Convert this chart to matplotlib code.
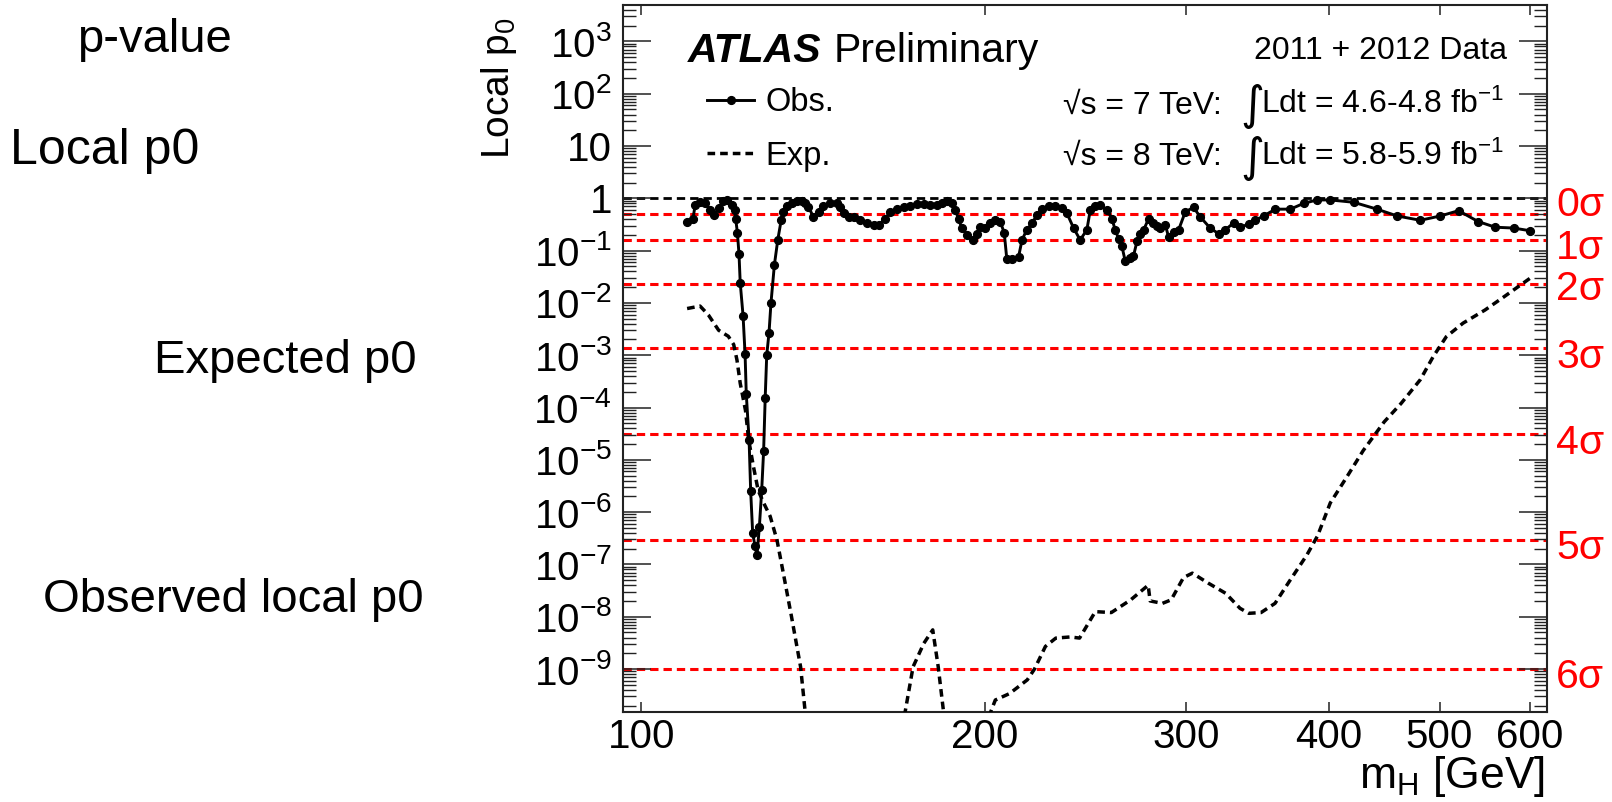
import numpy as np
import matplotlib
matplotlib.use('Agg')
import matplotlib.pyplot as plt
import matplotlib.transforms as mtransforms
from matplotlib.ticker import FixedLocator, FixedFormatter, LogLocator, NullLocator, NullFormatter

plt.rcParams['font.family'] = ['Liberation Sans', 'DejaVu Sans']
plt.rcParams['mathtext.fontset'] = 'custom'
plt.rcParams['mathtext.rm'] = 'Liberation Sans'
plt.rcParams['mathtext.it'] = 'Liberation Sans:italic'
plt.rcParams['mathtext.bf'] = 'Liberation Sans:bold'
plt.rcParams['lines.scale_dashes'] = False

# ---------------- data ----------------
obs_mass = [109.7, 111.0, 111.5, 112.6, 113.8, 114.9, 115.7, 116.9, 118.0, 119.0,
            120.1, 120.7, 121.0, 121.4, 121.8, 122.1, 122.8, 123.3, 123.6, 124.3,
            124.7, 125.2, 125.8, 126.3, 126.9, 127.5, 128.0, 128.4, 128.8, 129.4,
            129.9, 130.8, 131.7, 132.6, 133.2, 134.2, 135.5, 136.9, 138.2, 139.2,
            140.1, 141.5, 143.0, 144.4, 146.4, 148.3, 149.3, 150.4, 151.9, 153.5,
            155.5, 157.6, 159.8, 161.4, 163.6, 165.2, 167.5, 169.7, 172.0, 174.4,
            176.7, 179.1, 181.5, 183.4, 185.2, 187.1, 188.4, 189.6, 190.9, 192.9,
            195.4, 196.8, 198.1, 200.1, 202.1, 204.2, 206.2, 207.9, 209.0, 211.2,
            214.0, 215.5, 217.6, 219.8, 222.1, 224.3, 227.4, 230.4, 233.6, 235.9,
            239.1, 242.3, 245.6, 247.3, 249.7, 252.3, 255.7, 258.3, 260.0, 261.8,
            263.6, 265.3, 268.0, 269.8, 271.7, 273.5, 275.4, 278.2, 280.7, 282.9,
            284.8, 287.7, 289.6, 292.5, 295.5, 299.5, 304.5, 308.7, 314.9, 320.3,
            324.7, 330.2, 334.6, 340.3, 345.0, 350.7, 359.2, 370.2, 380.2, 390.6,
            401.2, 420.5, 440.8, 459.0, 481.0, 501.0, 519.6, 540.4, 559.5, 580.5,
            600.0]
obs_p0 = [0.35, 0.41, 0.74, 0.86, 0.80, 0.60, 0.48, 0.64, 0.90, 0.93,
          0.74, 0.60, 0.40, 0.22, 0.086, 0.024, 0.0057, 1.04e-3, 1.8e-4, 2.4e-5,
          2.5e-6, 4.0e-7, 2.2e-7, 1.5e-7, 5.2e-7, 2.6e-6, 1.5e-5, 1.5e-4, 1.0e-3, 2.7e-3,
          9.8e-3, 0.053, 0.16, 0.38, 0.55, 0.71, 0.82, 0.89, 0.89, 0.80,
          0.69, 0.44, 0.55, 0.71, 0.80, 0.80, 0.69, 0.52, 0.43, 0.44,
          0.38, 0.34, 0.31, 0.31, 0.41, 0.55, 0.62, 0.67, 0.72, 0.77,
          0.78, 0.74, 0.74, 0.80, 0.90, 0.80, 0.60, 0.40, 0.27, 0.20,
          0.16, 0.21, 0.28, 0.27, 0.33, 0.38, 0.36, 0.22, 0.068, 0.068,
          0.076, 0.16, 0.25, 0.33, 0.48, 0.62, 0.71, 0.72, 0.66, 0.52,
          0.27, 0.16, 0.25, 0.60, 0.72, 0.74, 0.60, 0.41, 0.25, 0.17,
          0.12, 0.064, 0.071, 0.079, 0.15, 0.21, 0.25, 0.41, 0.33, 0.30,
          0.27, 0.31, 0.18, 0.23, 0.25, 0.55, 0.67, 0.44, 0.27, 0.21,
          0.25, 0.34, 0.28, 0.32, 0.38, 0.46, 0.62, 0.62, 0.80, 0.93,
          0.93, 0.84, 0.62, 0.46, 0.38, 0.46, 0.58, 0.36, 0.28, 0.27,
          0.24]

exp_mass = [109.7, 112.6, 114.5, 116.9, 119.2, 120.5, 121.3, 122.1, 123.4, 124.2,
            125.4, 126.6, 128.0, 129.7, 131.5, 133.2, 135.4, 137.9, 140.5, 150.0,
            160.0, 167.5, 173.0, 176.8, 180.0, 182.0, 186.0, 192.0, 199.0, 204.2,
            210.2, 217.8, 221.0, 225.9, 230.7, 237.5, 242.0, 249.8, 258.0, 268.3,
            277.9, 279.0, 286.0, 291.1, 298.4, 303.8, 313.6, 324.9, 334.4, 340.4,
            348.9, 358.9, 369.3, 382.6, 391.0, 401.2, 414.9, 428.7, 447.2, 462.8,
            481.0, 493.7, 506.9, 524.3, 548.0, 569.2, 600.0]
exp_p0 = [7.8e-3, 8.7e-3, 5.9e-3, 3.0e-3, 2.3e-3, 1.6e-3, 8.1e-4, 2.9e-4, 8.8e-5, 2.4e-5,
          7.4e-6, 2.6e-6, 1.5e-6, 8.3e-7, 2.9e-7, 6.7e-8, 1.0e-8, 1.1e-9, 2e-11, 1e-13,
          1e-13, 2e-11, 1.1e-9, 3.1e-9, 5.6e-9, 1.1e-9, 2e-11, 1e-12, 6e-11, 2.55e-10,
          3.4e-10, 6.2e-10, 1.0e-9, 2.7e-9, 3.9e-9, 4.1e-9, 3.9e-9, 1.25e-8, 1.2e-8, 2.1e-8,
          4.0e-8, 2.0e-8, 1.8e-8, 2.1e-8, 5.6e-8, 6.8e-8, 4.4e-8, 2.8e-8, 1.45e-8, 1.16e-8,
          1.2e-8, 1.8e-8, 4.7e-8, 1.5e-7, 3.5e-7, 1.5e-6, 4.75e-6, 1.5e-5, 5.3e-5, 1.2e-4,
          3.4e-4, 9.4e-4, 2.26e-3, 4.1e-3, 7.3e-3, 1.3e-2, 2.95e-2]

sigma_labels = ['0σ', '1σ', '2σ', '3σ', '4σ', '5σ', '6σ']
sigma_p0 = [0.5, 0.1587, 0.02275, 1.35e-3, 3.17e-5, 2.87e-7, 9.87e-10]

x_ticks = [100, 200, 300, 400, 500, 600]
x_tick_labels = ['100', '200', '300', '400', '500', '600']
y_ticks = [1e-9, 1e-8, 1e-7, 1e-6, 1e-5, 1e-4, 1e-3, 1e-2, 1e-1, 1, 10, 1e2, 1e3]
y_tick_labels = [r'$10^{-9}$', r'$10^{-8}$', r'$10^{-7}$', r'$10^{-6}$', r'$10^{-5}$',
                 r'$10^{-4}$', r'$10^{-3}$', r'$10^{-2}$', r'$10^{-1}$', '1', '10',
                 r'$10^{2}$', r'$10^{3}$']

side_texts = ['p-value', 'Local p0', 'Expected p0', 'Observed local p0']
energy_texts = ['√s = 7 TeV:', '√s = 8 TeV:']
lumi_texts = [r'Ldt = 4.6-4.8 fb$^{\mathregular{-1}}$', r'Ldt = 5.8-5.9 fb$^{\mathregular{-1}}$']

# ---------------- layout (pixels) ----------------
W, H = 1612, 802
def fx(x):
    return x / W
def fy(y):
    return 1 - y / H

fig = plt.figure(figsize=(W / 100, H / 100), dpi=100)
ax = fig.add_axes([fx(623), fy(712), (1547 - 623) / W, (712 - 5) / H])
ax.set_xscale('log')
ax.set_yscale('log')
ax.set_xlim(96.4, 621)
ax.set_ylim(1.506e-10, 4966)

# reference lines
ax.axhline(1.0, color='black', lw=2.0, ls=(0, (6, 3.6)), zorder=1)
for p in sigma_p0:
    ax.axhline(p, color='#ff0000', lw=2.2, ls=(0, (6, 3.6)), zorder=1)

# curves
l_exp, = ax.plot(exp_mass, exp_p0, color='black', lw=2.5, ls=(0, (5.5, 3.6)),
                 label='Exp.', zorder=3)
l_obs, = ax.plot(obs_mass, obs_p0, color='black', lw=2.1, marker='o', ms=5.6,
                 label='Obs.', zorder=4)

# ticks
ax.xaxis.set_major_locator(FixedLocator(x_ticks))
ax.xaxis.set_major_formatter(FixedFormatter(x_tick_labels))
ax.xaxis.set_minor_locator(NullLocator())
ax.yaxis.set_major_locator(FixedLocator(y_ticks))
ax.yaxis.set_major_formatter(FixedFormatter(y_tick_labels))
ax.yaxis.set_minor_locator(LogLocator(base=10, subs=np.arange(2, 10), numticks=60))
ax.yaxis.set_minor_formatter(NullFormatter())
ax.tick_params(axis='both', which='both', direction='in', top=True, right=True,
               color='#222222')
ax.tick_params(axis='y', which='major', length=20, width=1.1, pad=8, labelsize=29)
ax.tick_params(axis='y', which='minor', length=9.5, width=1.0)
ax.tick_params(axis='x', which='major', length=7.5, width=1.1, pad=4, labelsize=29)
for s in ax.spines.values():
    s.set_linewidth(1.5)
    s.set_color('#222222')

# sigma labels on the right
trans = mtransforms.blended_transform_factory(ax.transAxes, ax.transData)
sigma_dy = [6.8, -5.4, -3.2, -6.0, -6.5, -5.4, -5.3]
for lab, p, dy in zip(sigma_labels, sigma_p0, sigma_dy):
    ax.annotate(lab, xy=(1.0, p), xycoords=trans, xytext=(6.5, dy),
                textcoords='offset points', color='#ff0000', fontsize=29.5,
                ha='left', va='center', annotation_clip=False)

# axis titles
fig.text(fx(1545), fy(788), r'm$_{\mathrm{H}}$ [GeV]', fontsize=32, ha='right', va='baseline')
fig.text(fx(499), fy(17), r'Local p$_{0}$', fontsize=28, rotation=90, ha='center', va='top')

# ATLAS label
fig.text(fx(688), fy(61.5), 'ATLAS', fontsize=29.5, fontweight='bold', fontstyle='italic',
         ha='left', va='baseline')
fig.text(fx(834), fy(61.5), 'Preliminary', fontsize=29.5, ha='left', va='baseline')

# data info
fig.text(fx(1507), fy(59.3), '2011 + 2012 Data', fontsize=23, ha='right', va='baseline')
for i, (et, lt) in enumerate(zip(energy_texts, lumi_texts)):
    yb = 113.3 + i * 51.7
    fig.text(fx(1222), fy(yb), et, fontsize=23, ha='right', va='baseline')
    fig.text(fx(1264), fy(yb + 6), '∫', fontsize=33, family='DejaVu Sans',
             ha='right', va='baseline')
    fig.text(fx(1504), fy(yb), lt, fontsize=23, ha='right', va='baseline')

# legend
ax.legend(handles=[l_obs, l_exp], loc='upper left', bbox_to_anchor=(fx(707), fy(87)),
          bbox_transform=fig.transFigure, frameon=False, fontsize=23.5,
          handlelength=1.45, handletextpad=0.35, labelspacing=0.7,
          borderpad=0, borderaxespad=0, numpoints=1)

# side annotations
side_pos = [(77, 51.5), (10, 164.5), (154, 373), (43, 612.5)]
side_size = [34, 36, 34, 34]
for t, (x, y), fs in zip(side_texts, side_pos, side_size):
    fig.text(fx(x), fy(y), t, fontsize=fs, ha='left', va='baseline')

fig.savefig('out.png', dpi=100)
